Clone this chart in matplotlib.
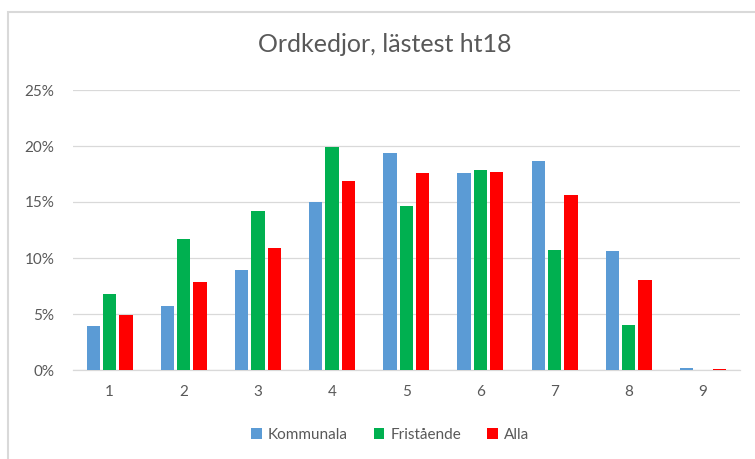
import numpy as np
import matplotlib
matplotlib.use("Agg")
import matplotlib.pyplot as plt
import matplotlib.ticker as mtick
from matplotlib.patches import Rectangle

categories = ["1", "2", "3", "4", "5", "6", "7", "8", "9"]
kommunala = [3.9, 5.7, 8.9, 15.0, 19.4, 17.6, 18.7, 10.6, 0.15]
fristaende = [6.8, 11.7, 14.2, 19.9, 14.6, 17.9, 10.7, 4.0, 0.0]
alla = [4.9, 7.9, 10.9, 16.9, 17.6, 17.7, 15.6, 8.0, 0.08]

series_names = ["Kommunala", "Fristående", "Alla"]
colors = ["#5B9BD5", "#00B050", "#FF0000"]
text_col = "#595959"
grid_col = "#D9D9D9"

plt.rcParams["font.family"] = ["Lato", "DejaVu Sans"]

fig = plt.figure(figsize=(7.55, 4.59), dpi=100)
ax = fig.add_axes([72.5 / 755, 1 - 370 / 459, (740 - 72.5) / 755, (370 - 90) / 459])

# outer chart frame
fig.patches.append(Rectangle((8 / 755, -0.05), 1.2, 1 - 12 / 459 + 0.05,
                             transform=fig.transFigure, fill=False,
                             edgecolor=grid_col, linewidth=1.5))

x = np.arange(len(categories))
w = 0.18
step = 0.22
for i, (vals, name, c) in enumerate(zip([kommunala, fristaende, alla], series_names, colors)):
    ax.bar(x + (i - 1) * step, np.array(vals) / 100, width=w, color=c, label=name, zorder=3)

ax.set_xlim(-0.5, len(categories) - 0.5)
ax.set_ylim(0, 0.25)
ax.set_yticks(np.arange(0, 0.26, 0.05))
ax.yaxis.set_major_formatter(mtick.PercentFormatter(1.0, decimals=0))
ax.set_xticks(x)
ax.set_xticklabels(categories)
ax.tick_params(axis="both", length=0, colors=text_col, labelsize=11)
ax.tick_params(axis="y", pad=13)
ax.tick_params(axis="x", pad=11)
ax.grid(axis="y", color=grid_col, linewidth=0.9, zorder=0)
for s in ["top", "right", "left"]:
    ax.spines[s].set_visible(False)
ax.spines["bottom"].set_color(grid_col)
ax.spines["bottom"].set_linewidth(0.9)

fig.text(385 / 755, 1 - 45 / 459, "Ordkedjor, lästest ht18", ha="center", va="center",
         fontsize=18, color=text_col)

leg = fig.legend(loc="center", bbox_to_anchor=(390 / 755, 1 - 435 / 459), ncol=3,
                 frameon=False, fontsize=11, handlelength=0.7, handleheight=0.7,
                 handletextpad=0.4, columnspacing=1.7)
for t in leg.get_texts():
    t.set_color(text_col)

fig.savefig("out.png", dpi=100)
